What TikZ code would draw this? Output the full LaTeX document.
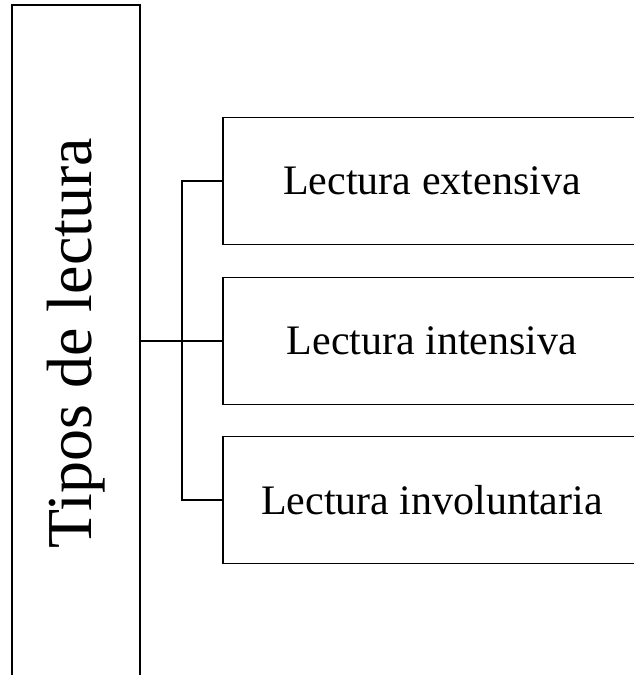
\documentclass[tikz,border=0pt]{standalone}
\usepackage{fontspec}
\setmainfont{Liberation Serif}
\usepackage{tikz}

\begin{document}
\begin{tikzpicture}[x=1pt,y=1pt,line width=1.5pt,
        tipo/.style={draw, inner sep=0pt, minimum width=418pt, minimum height=127pt,
                     font=\fontsize{42}{50}\selectfont},
        titulo/.style={draw, inner sep=0pt, rotate=90, minimum width=676pt, minimum height=128pt,
                     font=\fontsize{64}{76}\selectfont}]
        \useasboundingbox (0,0) rectangle (634,675);
        \node[titulo] (tipos) at (76,332) {Tipos de lectura};
        % the three kinds
        \node[tipo] (ext) at (432,494) {Lectura extensiva};
        \node[tipo] (int) at (432,334) {Lectura intensiva};
        \node[tipo] (inv) at (432,175) {Lectura involuntaria};
        \coordinate (fork) at (182,334);
        \draw (tipos.south |- int.west) -- (int.west);
        \draw (ext.west) -| (fork) |- (inv.west);
    \end{tikzpicture}
\end{document}
